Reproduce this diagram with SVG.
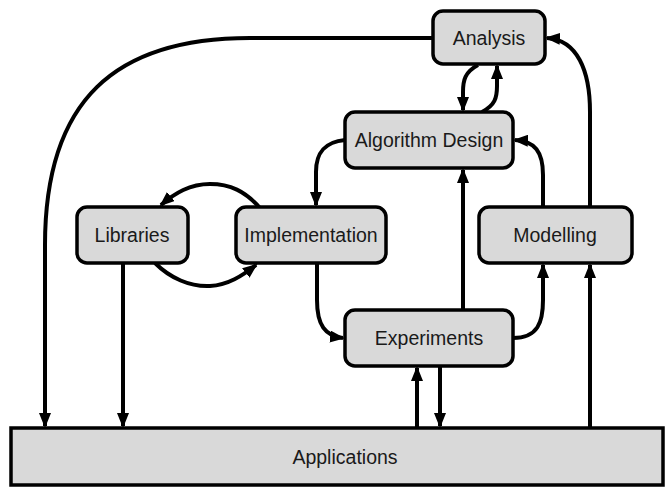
<svg xmlns="http://www.w3.org/2000/svg" width="666" height="489" viewBox="0 0 666 489">
<style>
.box{fill:#d9d9d9;stroke:#000;stroke-width:3.5}
.lbl{font-family:"Liberation Sans",Arial,sans-serif;font-size:19.5px;fill:#1a1a1a;text-anchor:middle;dominant-baseline:central}
.c{fill:none;stroke:#000;stroke-width:4;marker-end:url(#ah)}
</style>
<defs>
<marker id="ah" markerUnits="userSpaceOnUse" markerWidth="16" markerHeight="12" refX="13" refY="6" orient="auto">
<path d="M0,0 L15,6 L0,12 z" fill="#000"/>
</marker>
</defs>
<rect width="666" height="489" fill="#fff"/>
<g id="connectors">
<path class="c" d="M433,38 L250,38 C115,38 45,100 45,245 L45,426"/>
<path class="c" d="M123,264 L123,426"/>
<path class="c" d="M478,65 C465,72 463,80 463,92 L463,110"/>
<path class="c" d="M482,112 C495,105 497,98 497,86 L497,66"/>
<path class="c" d="M345,140 C325,142 316,152 316,172 L316,205"/>
<path class="c" d="M260,208 C245,191 230,184 210,184 C190,184 175,193 161,205"/>
<path class="c" d="M155,263 C170,278 190,287 210,286 C228,285 242,276 256,265"/>
<path class="c" d="M317,264 L317,300 C317,325 325,336 343,338"/>
<path class="c" d="M463,310 L463,170"/>
<path class="c" d="M513,338 C538,338 543,322 543,300 L543,265"/>
<path class="c" d="M543,207 L543,175 C543,152 535,141 515,140"/>
<path class="c" d="M590,428 L590,265"/>
<path class="c" d="M590,207 L590,112 C590,70 577,40 547,38"/>
<path class="c" d="M417,428 L417,368"/>
<path class="c" d="M440,366 L440,426"/>
</g>
<g id="analysis"><rect class="box" x="433" y="11" width="112" height="53" rx="10"/><text class="lbl" x="489" y="38">Analysis</text></g>
<g id="algorithm-design"><rect class="box" x="345" y="112" width="168" height="56" rx="10"/><text class="lbl" x="429" y="140">Algorithm Design</text></g>
<g id="libraries"><rect class="box" x="77" y="207" width="111" height="56" rx="10"/><text class="lbl" x="132" y="235">Libraries</text></g>
<g id="implementation"><rect class="box" x="236" y="207" width="150" height="56" rx="10"/><text class="lbl" x="311" y="235">Implementation</text></g>
<g id="modelling"><rect class="box" x="479" y="207" width="153" height="56" rx="10"/><text class="lbl" x="555" y="235">Modelling</text></g>
<g id="experiments"><rect class="box" x="345" y="310" width="168" height="56" rx="10"/><text class="lbl" x="429" y="338">Experiments</text></g>
<g id="applications"><rect class="box" x="11" y="428" width="652" height="57"/><text class="lbl" x="345" y="457">Applications</text></g>
</svg>
